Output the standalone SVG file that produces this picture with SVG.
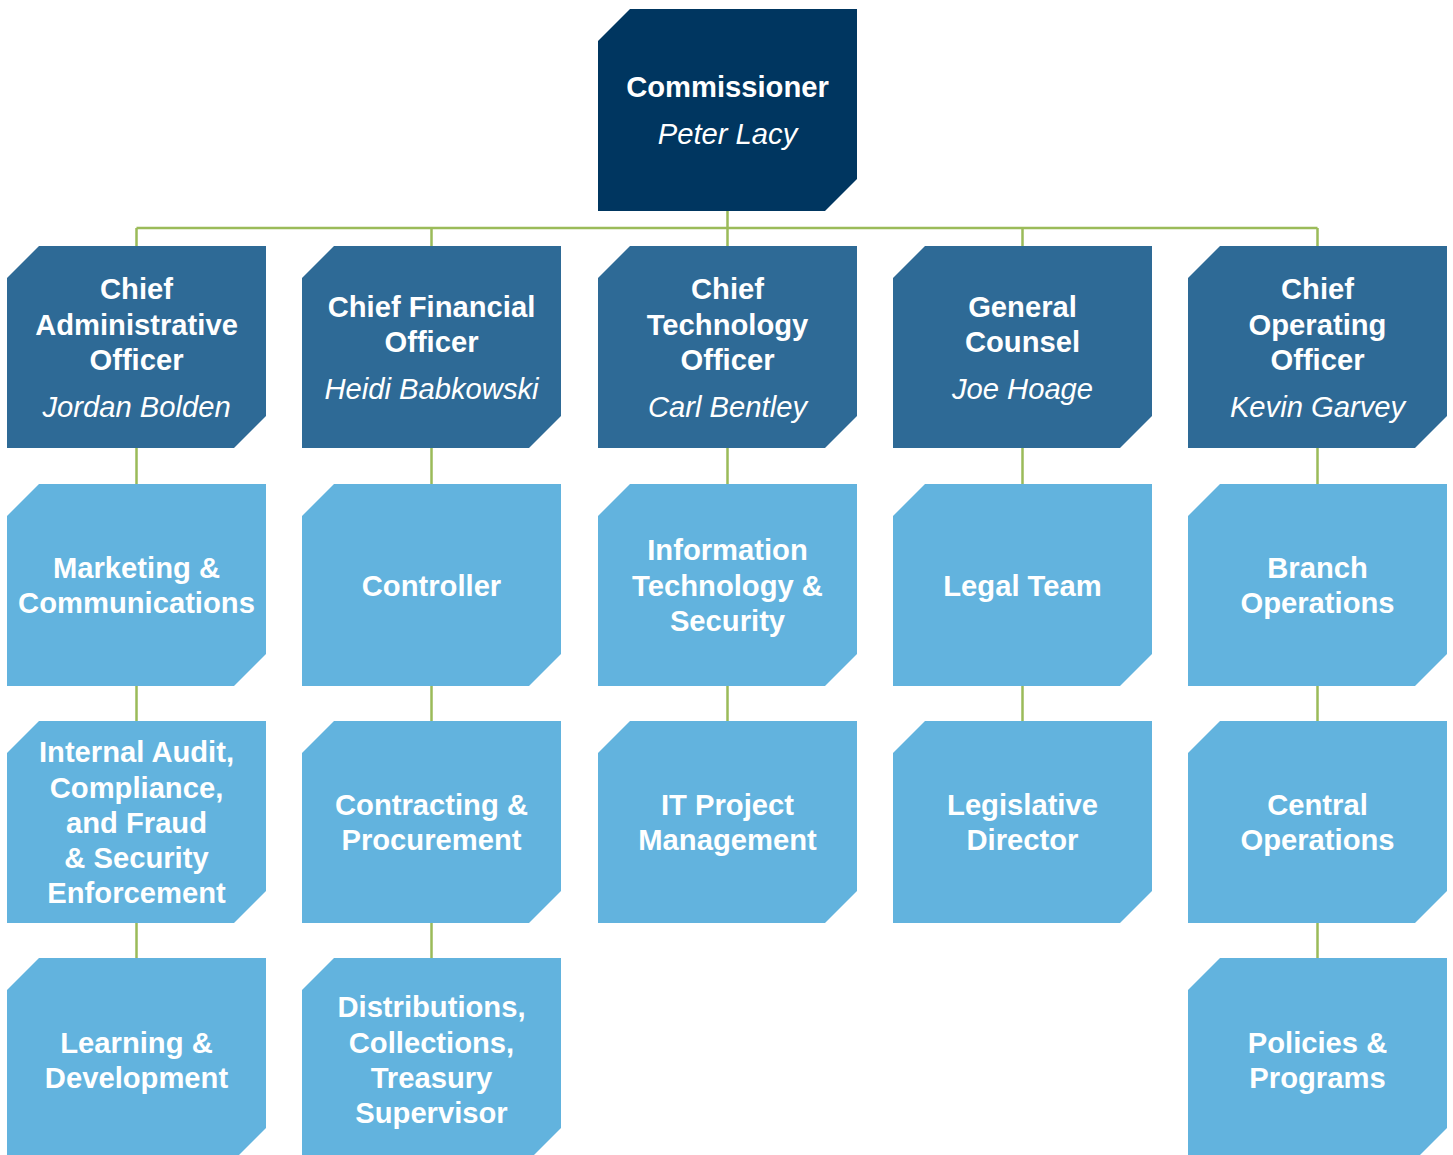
<svg xmlns="http://www.w3.org/2000/svg" xmlns:xlink="http://www.w3.org/1999/xlink" width="1453" height="1155" viewBox="0 0 1453 1155">
<style>
.t{font-family:"Liberation Sans",Arial,sans-serif;font-size:29.2px;font-weight:bold;fill:#fff;text-anchor:middle}
.n{font-family:"Liberation Sans",Arial,sans-serif;font-size:29.2px;font-style:italic;fill:#fff;text-anchor:middle}
.top{fill:#003660}
.mid{fill:#2E6A96}
.lt{fill:#62B3DE}
.c{stroke:#9BBB59;stroke-width:2.5;fill:none}
</style>
<defs>
<path id="box" d="M32,0 H259 V170 L227,202 H0 V32 Z"/>
</defs>
<rect width="1453" height="1155" fill="#fff"/>
<g id="connectors">
<path class="c" d="M727.5,211 V228 M136.5,228 H1317.5 M136.5,228 V246 M431.5,228 V246 M727.5,228 V246 M1022.5,228 V246 M1317.5,228 V246"/>
<path class="c" d="M136.5,448 V484 M136.5,685 V721 M136.5,922 V958"/>
<path class="c" d="M431.5,448 V484 M431.5,685 V721 M431.5,922 V958"/>
<path class="c" d="M727.5,448 V484 M727.5,685 V721"/>
<path class="c" d="M1022.5,448 V484 M1022.5,685 V721"/>
<path class="c" d="M1317.5,448 V484 M1317.5,685 V721 M1317.5,922 V958"/>
</g>
<g id="commissioner"><use xlink:href="#box" x="598" y="9" class="top"/>
<text class="t" x="727.5" y="96.5">Commissioner</text><text class="n" x="727.5" y="143.5">Peter Lacy</text></g>
<g id="cao"><use xlink:href="#box" x="7" y="246" class="mid"/>
<text class="t" x="136.5" y="298.5">Chief</text><text class="t" x="136.5" y="334.5">Administrative</text><text class="t" x="136.5" y="369.5">Officer</text><text class="n" x="136.5" y="416.5">Jordan Bolden</text></g>
<g id="cfo"><use xlink:href="#box" x="302" y="246" class="mid"/>
<text class="t" x="431.5" y="316.5">Chief Financial</text><text class="t" x="431.5" y="351.5">Officer</text><text class="n" x="431.5" y="398.5">Heidi Babkowski</text></g>
<g id="cto"><use xlink:href="#box" x="598" y="246" class="mid"/>
<text class="t" x="727.5" y="298.5">Chief</text><text class="t" x="727.5" y="334.5">Technology</text><text class="t" x="727.5" y="369.5">Officer</text><text class="n" x="727.5" y="416.5">Carl Bentley</text></g>
<g id="gc"><use xlink:href="#box" x="893" y="246" class="mid"/>
<text class="t" x="1022.5" y="316.5">General</text><text class="t" x="1022.5" y="351.5">Counsel</text><text class="n" x="1022.5" y="398.5">Joe Hoage</text></g>
<g id="coo"><use xlink:href="#box" x="1188" y="246" class="mid"/>
<text class="t" x="1317.5" y="298.5">Chief</text><text class="t" x="1317.5" y="334.5">Operating</text><text class="t" x="1317.5" y="369.5">Officer</text><text class="n" x="1317.5" y="416.5">Kevin Garvey</text></g>
<g id="marketing"><use xlink:href="#box" x="7" y="484" class="lt"/>
<text class="t" x="136.5" y="577.5">Marketing &amp;</text><text class="t" x="136.5" y="612.5">Communications</text></g>
<g id="controller"><use xlink:href="#box" x="302" y="484" class="lt"/>
<text class="t" x="431.5" y="595.5">Controller</text></g>
<g id="its"><use xlink:href="#box" x="598" y="484" class="lt"/>
<text class="t" x="727.5" y="559.5">Information</text><text class="t" x="727.5" y="595.5">Technology &amp;</text><text class="t" x="727.5" y="630.5">Security</text></g>
<g id="legal"><use xlink:href="#box" x="893" y="484" class="lt"/>
<text class="t" x="1022.5" y="595.5">Legal Team</text></g>
<g id="branch"><use xlink:href="#box" x="1188" y="484" class="lt"/>
<text class="t" x="1317.5" y="577.5">Branch</text><text class="t" x="1317.5" y="612.5">Operations</text></g>
<g id="audit"><use xlink:href="#box" x="7" y="721" class="lt"/>
<text class="t" x="136.5" y="761.5">Internal Audit,</text><text class="t" x="136.5" y="797.5">Compliance,</text><text class="t" x="136.5" y="832.5">and Fraud</text><text class="t" x="136.5" y="867.5">&amp; Security</text><text class="t" x="136.5" y="902.5">Enforcement</text></g>
<g id="contracting"><use xlink:href="#box" x="302" y="721" class="lt"/>
<text class="t" x="431.5" y="814.5">Contracting &amp;</text><text class="t" x="431.5" y="849.5">Procurement</text></g>
<g id="itpm"><use xlink:href="#box" x="598" y="721" class="lt"/>
<text class="t" x="727.5" y="814.5">IT Project</text><text class="t" x="727.5" y="849.5">Management</text></g>
<g id="legislative"><use xlink:href="#box" x="893" y="721" class="lt"/>
<text class="t" x="1022.5" y="814.5">Legislative</text><text class="t" x="1022.5" y="849.5">Director</text></g>
<g id="central"><use xlink:href="#box" x="1188" y="721" class="lt"/>
<text class="t" x="1317.5" y="814.5">Central</text><text class="t" x="1317.5" y="849.5">Operations</text></g>
<g id="learning"><use xlink:href="#box" x="7" y="958" class="lt"/>
<text class="t" x="136.5" y="1052.5">Learning &amp;</text><text class="t" x="136.5" y="1087.5">Development</text></g>
<g id="distributions"><use xlink:href="#box" x="302" y="958" class="lt"/>
<text class="t" x="431.5" y="1016.5">Distributions,</text><text class="t" x="431.5" y="1052.5">Collections,</text><text class="t" x="431.5" y="1087.5">Treasury</text><text class="t" x="431.5" y="1122.5">Supervisor</text></g>
<g id="policies"><use xlink:href="#box" x="1188" y="958" class="lt"/>
<text class="t" x="1317.5" y="1052.5">Policies &amp;</text><text class="t" x="1317.5" y="1087.5">Programs</text></g>
</svg>
